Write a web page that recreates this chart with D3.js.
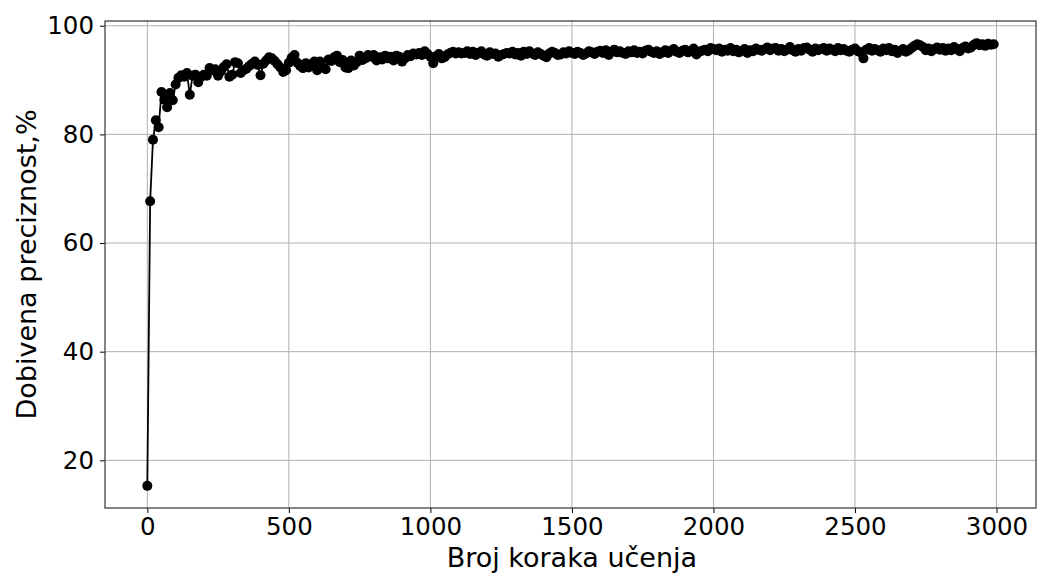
<!DOCTYPE html>
<html>
<head>
<meta charset="utf-8">
<script src="https://cdn.jsdelivr.net/npm/d3@7"></script>
<style>
  body { margin: 0; background: #fff; }
  svg text { font-family: "DejaVu Sans", sans-serif; fill: #000; }
</style>
</head>
<body>
<svg id="chart" width="1038" height="574"></svg>
<script>
/*jslint browser: true*/
/*global d3*/
"use strict";

// training step of each sample
var steps = d3.range(0, 3000, 10);

// accuracy (%), ten samples per row
var accuracy = [
    15.3, 67.7, 79.0, 82.6, 81.3, 87.8, 86.4, 85.0, 87.6, 86.3,
    89.2, 90.4, 90.9, 90.6, 91.3, 87.3, 90.8, 91.0, 89.6, 90.6,
    91.0, 90.8, 92.2, 91.8, 92.0, 90.8, 91.6, 92.4, 92.9, 90.6,
    91.0, 93.3, 93.1, 91.3, 91.8, 92.1, 92.6, 93.0, 93.4, 92.8,
    90.9, 93.0, 93.6, 94.2, 94.0, 93.5, 92.9, 92.3, 91.5, 91.8,
    93.2, 94.1, 94.6, 93.2, 92.6, 92.2, 93.1, 92.3, 92.9, 93.4,
    91.8, 93.4, 92.3, 92.0, 93.8, 93.5, 94.2, 94.5, 93.3, 93.7,
    92.3, 92.2, 93.6, 92.7, 93.3, 94.5, 93.7, 94.0, 94.6, 94.3,
    94.6, 93.6, 94.2, 93.8, 94.5, 94.0, 94.3, 93.6, 94.5, 94.3,
    93.4, 94.0, 94.6, 94.4, 94.9, 94.7, 95.0, 94.6, 95.3, 94.8,
    94.3, 93.1, 94.4, 94.8, 94.0, 94.2, 94.7, 95.0, 95.2, 94.9,
    95.1, 94.9, 95.0, 95.3, 94.8, 95.2, 94.6, 95.0, 95.3, 94.7,
    94.5, 95.1, 94.8, 94.9, 94.3, 94.6, 94.8, 95.0, 94.9, 95.2,
    94.7, 95.0, 94.5, 95.2, 94.8, 95.3, 94.9, 94.6, 95.1, 94.8,
    94.5, 94.2, 94.9, 95.2, 95.0, 94.6, 94.7, 95.1, 94.9, 95.3,
    95.0, 94.8, 95.2, 95.0, 94.6, 94.9, 95.3, 95.1, 94.8, 95.2,
    95.4, 95.0, 95.5, 94.6, 95.2, 95.6, 95.1, 95.3, 95.0, 94.8,
    95.3, 95.1, 95.5, 95.0, 95.2, 94.9, 95.4, 95.6, 95.2, 95.0,
    95.3, 94.8, 95.1, 95.5, 95.0, 95.4, 95.7, 95.2, 95.0, 95.4,
    95.6, 95.1, 95.3, 95.8, 94.7, 95.2, 95.4, 95.6, 95.3, 95.9,
    95.7, 95.5, 95.8, 95.2, 95.6, 95.4, 95.9, 95.3, 95.6, 95.1,
    95.4, 95.7, 95.0, 95.5, 95.3, 95.8, 95.6, 95.4, 95.7, 96.0,
    95.5, 95.8, 95.9, 95.4, 95.7, 95.3, 95.6, 96.1, 95.5, 95.2,
    95.7, 95.4, 95.9, 96.0, 95.6, 95.2, 95.8, 95.5, 95.7, 95.9,
    95.4, 95.8, 95.6, 95.3, 95.9, 95.5, 95.7, 95.4, 95.2, 95.6,
    95.8, 95.3, 95.1, 94.0, 95.6, 95.9, 95.4, 95.7, 95.5, 95.2,
    95.8, 95.5, 95.9, 95.3, 95.6, 95.0, 95.4, 95.7, 95.2, 95.5,
    95.9, 96.3, 96.6, 96.4, 96.1, 95.5, 95.8, 95.3, 95.7, 96.0,
    95.6, 95.9, 95.4, 95.8, 95.5, 96.1, 95.7, 95.3, 95.9, 96.2,
    95.8, 96.0, 96.5, 96.8, 96.4, 96.6, 96.3, 96.7, 96.5, 96.6
];

var xTicks = [0, 500, 1000, 1500, 2000, 2500, 3000],
    yTicks = [20, 40, 60, 80, 100],
    xLabel = 'Broj koraka učenja',
    yLabel = 'Dobivena preciznost,%';

var points = steps.map(function (s, i) {
    return {x: s, y: accuracy[i]};
});

var margin = {left: 105, right: 2, top: 21, bottom: 66},
    svg = d3.select('#chart'),
    width = +svg.attr('width') - margin.left - margin.right,
    height = +svg.attr('height') - margin.top - margin.bottom;

// matplotlib style 5% padding around the data
var xMin = d3.min(steps), xMax = d3.max(steps),
    yMin = d3.min(accuracy), yMax = d3.max(accuracy),
    xPad = (xMax - xMin) * 0.05,
    yPad = (yMax - yMin) * 0.05;

var x = d3.scaleLinear()
        .domain([xMin - xPad, xMax + xPad])
        .range([0, width]),
    y = d3.scaleLinear()
        .domain([yMin - yPad, yMax + yPad])
        .range([height, 0]);

var g = svg.append('g')
    .attr('transform', 'translate(' + margin.left + ',' + margin.top + ')');

// grid
g.append('g')
    .selectAll('line')
    .data(xTicks)
    .join('line')
    .attr('x1', function (d) { return x(d); })
    .attr('x2', function (d) { return x(d); })
    .attr('y1', 0)
    .attr('y2', height)
    .attr('stroke', '#b0b0b0')
    .attr('stroke-width', 1);

g.append('g')
    .selectAll('line')
    .data(yTicks)
    .join('line')
    .attr('x1', 0)
    .attr('x2', width)
    .attr('y1', function (d) { return y(d); })
    .attr('y2', function (d) { return y(d); })
    .attr('stroke', '#b0b0b0')
    .attr('stroke-width', 1);

// series
g.append('path')
    .datum(points)
    .attr('fill', 'none')
    .attr('stroke', '#000')
    .attr('stroke-width', 1.8)
    .attr('d', d3.line()
        .x(function (d) { return x(d.x); })
        .y(function (d) { return y(d.y); }));

g.append('g')
    .selectAll('circle')
    .data(points)
    .join('circle')
    .attr('cx', function (d) { return x(d.x); })
    .attr('cy', function (d) { return y(d.y); })
    .attr('r', 5)
    .attr('fill', '#000');

// axes
var xAxis = g.append('g')
    .attr('transform', 'translate(0,' + height + ')')
    .call(d3.axisBottom(x).tickValues(xTicks).tickSize(5).tickPadding(5)
        .tickFormat(d3.format('d')));

var yAxis = g.append('g')
    .call(d3.axisLeft(y).tickValues(yTicks).tickSize(5).tickPadding(6)
        .tickFormat(d3.format('d')));

[xAxis, yAxis].forEach(function (ax) {
    ax.select('.domain').remove();
    ax.selectAll('.tick line').attr('stroke', '#000').attr('stroke-width', 1);
    ax.selectAll('.tick text')
        .attr('fill', '#000')
        .style('font-size', '24.5px')
        .style('font-family', '"DejaVu Sans", sans-serif');
});

// frame
g.append('rect')
    .attr('width', width)
    .attr('height', height)
    .attr('fill', 'none')
    .attr('stroke', '#333')
    .attr('stroke-width', 1.2);

svg.append('text')
    .attr('x', margin.left + x(1500))
    .attr('y', 567)
    .attr('text-anchor', 'middle')
    .style('font-size', '27px')
    .text(xLabel);

svg.append('text')
    .attr('transform', 'translate(36,' + (margin.top + height / 2) + ')rotate(-90)')
    .attr('text-anchor', 'middle')
    .style('font-size', '27px')
    .text(yLabel);
</script>
</body>
</html>
